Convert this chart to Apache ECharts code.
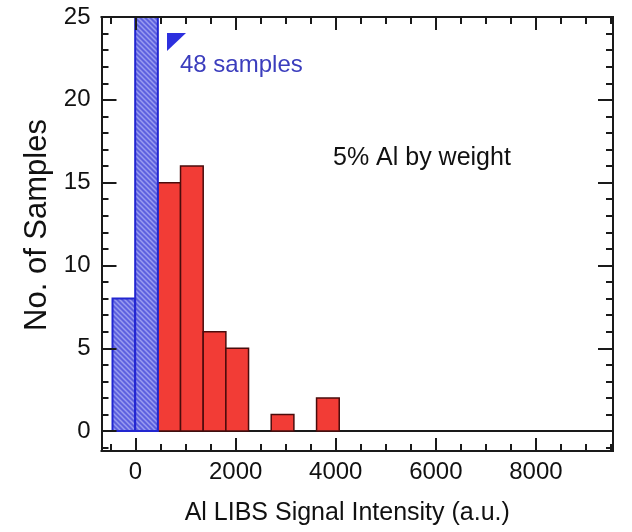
<!DOCTYPE html>
<html>
<head>
<meta charset="utf-8">
<script src="https://cdn.jsdelivr.net/npm/echarts@6/dist/echarts.min.js"></script>
<style>html,body{margin:0;padding:0;background:#fff;}#c{width:632px;height:532px;}</style>
</head>
<body>
<div id="c"></div>
<script>
// ---- data ----
var binEdges = [-460, -7, 446, 899, 1352, 1805, 2258, 2711, 3164, 3617, 4070];
var blueCounts = [8, 48];            // first two bins (the second one is 48 samples, clipped at 25)
var redCounts = [15, 16, 6, 5, 0, 1, 0, 2];  // following bins
var xMajorTicks = [0, 2000, 4000, 6000, 8000];
var xMinorTicks = [-500, 500, 1000, 1500, 2500, 3000, 3500, 4500, 5000, 5500, 6500, 7000, 7500, 8500, 9000, 9500];
var yMajorTicks = [0, 5, 10, 15, 20, 25];
var yMinorTicks = [-1, 1, 2, 3, 4, 6, 7, 8, 9, 11, 12, 13, 14, 16, 17, 18, 19, 21, 22, 23, 24];
var xRange = [-680, 9540];
var yRange = [-1.2, 25];

// build bin data
var blueData = [], redData = [];
for (var i = 0; i < blueCounts.length; i++) blueData.push([binEdges[i], binEdges[i + 1], blueCounts[i]]);
for (var j = 0; j < redCounts.length; j++) {
  var k = j + blueCounts.length;
  if (redCounts[j] > 0) redData.push([binEdges[k], binEdges[k + 1], redCounts[j]]);
}

// hatch pattern
var pc = document.createElement('canvas');
pc.width = 5; pc.height = 5;
var g = pc.getContext('2d');
g.fillStyle = '#5d61df';
g.fillRect(0, 0, 5, 5);
g.strokeStyle = '#9a9df0';
g.lineWidth = 1.5;
g.beginPath();
g.moveTo(-1, -1); g.lineTo(6, 6);
g.moveTo(-1, 4); g.lineTo(1, 6);
g.moveTo(4, -1); g.lineTo(6, 1);
g.stroke();
var hatch = {image: pc, repeat: 'repeat'};

function makeRender(fill, stroke, lw) {
  return function (params, api) {
    var x0 = api.value(0), x1 = api.value(1), h = api.value(2);
    var p0 = api.coord([x0, 0]);
    var p1 = api.coord([x1, h]);
    var cs = params.coordSys;
    var shape = echarts.graphic.clipRectByRect(
      {x: p0[0], y: p1[1], width: p1[0] - p0[0], height: p0[1] - p1[1]},
      {x: cs.x, y: cs.y, width: cs.width, height: cs.height}
    );
    if (!shape) return;
    return {type: 'rect', shape: shape, style: {fill: fill, stroke: stroke, lineWidth: lw}};
  };
}

var FONT = 'Liberation Sans';
var frameLine = {show: true, onZero: false, lineStyle: {color: '#1a1a1a', width: 2}};
function plain(v) { return String(v); }

function xAx(pos, ticks, len, labels, extra) {
  var a = {
    type: 'value', position: pos, min: xRange[0], max: xRange[1], z: 5,
    axisLine: frameLine,
    axisTick: {show: true, inside: true, length: len, customValues: ticks, lineStyle: {color: '#1a1a1a', width: 2}},
    axisLabel: labels ? {show: true, customValues: xMajorTicks, formatter: plain, fontFamily: FONT, fontSize: 24, color: '#111', margin: 9} : {show: false},
    splitLine: {show: false}
  };
  for (var key in (extra || {})) a[key] = extra[key];
  return a;
}
function yAx(pos, ticks, len, labels, extra) {
  var a = {
    type: 'value', position: pos, min: yRange[0], max: yRange[1], z: 5,
    axisLine: frameLine,
    axisTick: {show: true, inside: true, length: len, customValues: ticks, lineStyle: {color: '#1a1a1a', width: 2}},
    axisLabel: labels ? {show: true, customValues: yMajorTicks, formatter: plain, fontFamily: FONT, fontSize: 24, color: '#111', margin: 11} : {show: false},
    splitLine: {show: false}
  };
  for (var key in (extra || {})) a[key] = extra[key];
  return a;
}

var chart = echarts.init(document.getElementById('c'), null, {renderer: 'canvas'});
chart.setOption({
  backgroundColor: '#ffffff',
  animation: false,
  grid: {left: 101.5, right: 19, top: 17, bottom: 81, outerBoundsMode: 'none', containLabel: false},
  xAxis: [
    xAx('bottom', xMajorTicks, 13, true, {
      name: 'Al LIBS Signal Intensity (a.u.)', nameLocation: 'middle', nameGap: 50,
      nameTextStyle: {fontFamily: FONT, fontSize: 25, color: '#111', padding: [0, 20, 0, 0]}
    }),
    xAx('bottom', xMinorTicks, 7, false),
    xAx('top', xMajorTicks, 13, false),
    xAx('top', xMinorTicks, 7, false)
  ],
  yAxis: [
    yAx('left', yMajorTicks, 15, true, {
      name: 'No. of Samples', nameLocation: 'middle', nameGap: 46, nameRotate: 90,
      nameTextStyle: {fontFamily: FONT, fontSize: 31, color: '#111', padding: [0, 0, 0, 18]}
    }),
    yAx('left', yMinorTicks, 7, false),
    yAx('right', yMajorTicks, 15, false),
    yAx('right', yMinorTicks, 7, false)
  ],
  series: [
    {
      type: 'line', xAxisIndex: 0, yAxisIndex: 0, z: 1, symbol: 'none', silent: true,
      lineStyle: {color: '#1a1a1a', width: 2},
      data: [[binEdges[0], 0], [xRange[1], 0]]
    },
    {
      type: 'custom', xAxisIndex: 0, yAxisIndex: 0, z: 2,
      renderItem: makeRender('#f23c36', '#4a0c0c', 1.5),
      encode: {x: [0, 1], y: 2},
      data: redData
    },
    {
      type: 'custom', xAxisIndex: 0, yAxisIndex: 0, z: 3,
      renderItem: makeRender(hatch, '#2226d0', 2),
      encode: {x: [0, 1], y: 2},
      data: blueData
    }
  ],
  graphic: [
    {type: 'polygon', z: 10, shape: {points: [[167, 33], [186, 33], [167, 51]]}, style: {fill: '#2d30de'}},
    {type: 'text', z: 10, left: 180, top: 53, style: {text: '48 samples', fontFamily: FONT, fontSize: 24, fill: '#3b3dbd'}},
    {type: 'text', z: 10, left: 333, top: 146, style: {text: '5% Al by weight', fontFamily: FONT, fontSize: 25, fill: '#111'}}
  ]
});
</script>
</body>
</html>
